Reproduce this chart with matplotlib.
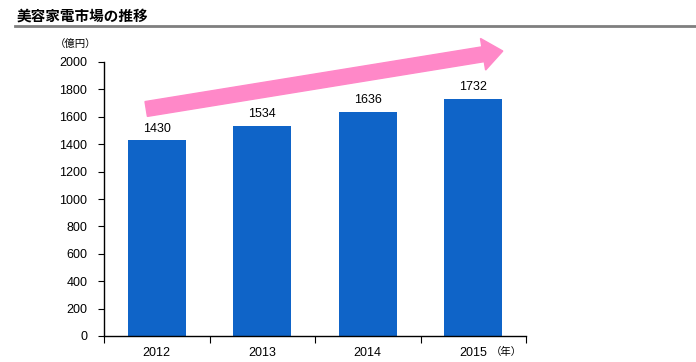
import matplotlib
matplotlib.use("Agg")
import matplotlib.pyplot as plt
from matplotlib.patches import FancyArrow
from matplotlib.lines import Line2D

plt.rcParams['font.family'] = ['Liberation Sans', 'Noto Sans CJK JP', 'DejaVu Sans']

title = "美容家電市場の推移"
years = ["2012", "2013", "2014", "2015"]
values = [1430, 1534, 1636, 1732]
yticks = [0, 200, 400, 600, 800, 1000, 1200, 1400, 1600, 1800, 2000]
y_unit = "（億円）"
x_unit = "（年）"

bar_color = "#0F64C8"
arrow_color = "#FF88C8"

fig = plt.figure(figsize=(6.96, 3.62), dpi=100)
ax = fig.add_axes([104/696, 1-336/362, 422/696, 274/362])

x = list(range(len(years)))
ax.bar(x, values, width=0.55, color=bar_color, zorder=2)
for xi, v in zip(x, values):
    ax.annotate(str(v), (xi, v), xytext=(0, 4), textcoords="offset points",
                ha="center", va="bottom", fontsize=9)

ax.set_xlim(-0.5, len(years) - 0.5)
ax.set_ylim(0, 2000)
ax.set_yticks(yticks)
ax.set_yticklabels([str(t) for t in yticks], fontsize=9)
ax.set_xticks(x)
ax.set_xticklabels(years, fontsize=9)
ax.set_xticks([i - 0.5 for i in range(len(years) + 1)], minor=True)
ax.tick_params(axis='x', which='major', length=0, pad=8)
ax.tick_params(axis='x', which='minor', length=5, direction='out', width=0.8)
ax.tick_params(axis='y', length=4, direction='out', width=0.8, pad=8)
for s in ["top", "right"]:
    ax.spines[s].set_visible(False)
for s in ["left", "bottom"]:
    ax.spines[s].set_linewidth(1.0)

# decorative trend arrow, anchored in data coordinates, drawn in pixel space
x0, y0 = -0.1, 1657
x1, y1 = 3.28, 2080
p0 = ax.transData.transform((x0, y0))
p1 = ax.transData.transform((x1, y1))
arr = FancyArrow(p0[0], p0[1], p1[0] - p0[0], p1[1] - p0[1], width=15,
                 head_width=32, head_length=20, length_includes_head=True,
                 color=arrow_color, clip_on=False, zorder=3, transform=None)
fig.patches.append(arr)

fig.text(17/696, 1-16/362, title, fontsize=10.5, fontweight='bold',
         family=['Noto Sans CJK JP'], ha='left', va='center')
fig.add_artist(Line2D([15/696, 1.0], [1-26/362, 1-26/362], color='#7F7F7F', lw=2))

fig.text(76/696, 1-44/362, y_unit, fontsize=7.5, family=['Noto Sans CJK JP'],
         ha='center', va='center')
fig.text(506/696, 1-352/362, x_unit, fontsize=7.5, family=['Noto Sans CJK JP'],
         ha='center', va='center')

fig.savefig("out.png", dpi=100)
